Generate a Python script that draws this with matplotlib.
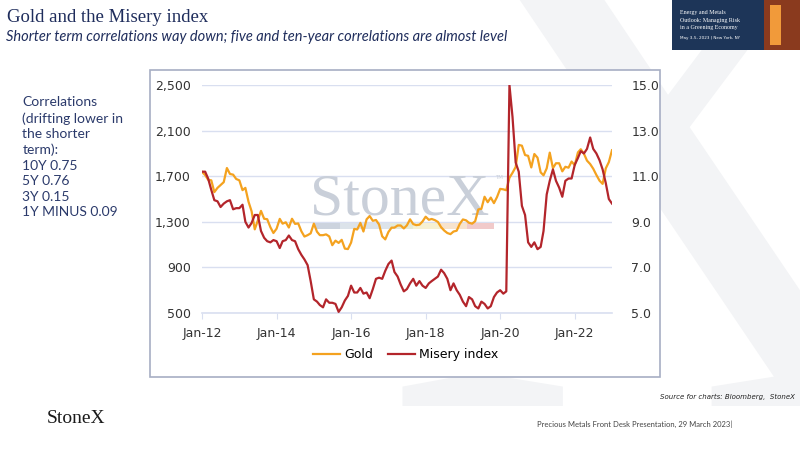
import pandas as pd
import matplotlib.pyplot as plt
from matplotlib.ticker import FuncFormatter, FixedLocator
from matplotlib.patches import Rectangle

# monthly data, Jan 2012 - Jan 2023
dates = pd.date_range('2012-01-01', periods=133, freq='MS')

gold = [1738, 1710, 1669, 1664, 1561, 1598, 1622, 1648, 1772, 1720, 1714, 1676,
        1664, 1578, 1598, 1476, 1393, 1234, 1312, 1396, 1327, 1323, 1253, 1202,
        1240, 1326, 1284, 1296, 1250, 1327, 1282, 1286, 1217, 1171, 1183, 1199,
        1284, 1213, 1183, 1183, 1190, 1172, 1095, 1135, 1115, 1142, 1065, 1061,
        1118, 1238, 1233, 1291, 1215, 1322, 1351, 1309, 1316, 1277, 1173, 1146,
        1211, 1249, 1249, 1268, 1268, 1242, 1269, 1322, 1280, 1271, 1275, 1303,
        1345, 1318, 1325, 1315, 1299, 1253, 1224, 1202, 1192, 1215, 1222, 1282,
        1321, 1313, 1292, 1284, 1305, 1409, 1414, 1520, 1472, 1513, 1464, 1517,
        1589, 1585, 1577, 1687, 1730, 1781, 1975, 1968, 1886, 1879, 1777, 1895,
        1863, 1734, 1708, 1769, 1907, 1771, 1814, 1814, 1743, 1783, 1775, 1829,
        1797, 1909, 1937, 1897, 1837, 1807, 1766, 1711, 1661, 1633, 1769, 1824,
        1928]

misery = [11.2, 11.2, 10.9, 10.4, 9.95, 9.9, 9.65, 9.8, 9.9, 9.95, 9.55, 9.6,
          9.6, 9.75, 9.0, 8.75, 8.95, 9.3, 9.3, 8.6, 8.3, 8.15, 8.1, 8.2,
          8.15, 7.85, 8.15, 8.2, 8.4, 8.2, 8.15, 7.8, 7.55, 7.35, 7.1, 6.4,
          5.6, 5.5, 5.35, 5.25, 5.6, 5.45, 5.45, 5.4, 5.05, 5.25, 5.55, 5.75,
          6.2, 5.9, 5.9, 6.1, 5.85, 5.9, 5.65, 6.05, 6.5, 6.55, 6.5, 6.85,
          7.15, 7.3, 6.8, 6.6, 6.25, 5.95, 6.05, 6.3, 6.5, 6.2, 6.4, 6.2,
          6.1, 6.3, 6.4, 6.5, 6.6, 6.9, 6.75, 6.5, 6.0, 6.3, 6.0, 5.8,
          5.5, 5.3, 5.7, 5.6, 5.3, 5.2, 5.5, 5.4, 5.2, 5.3, 5.7, 5.9,
          6.0, 5.85, 5.95, 15.0, 13.6, 11.6, 11.2, 9.7, 9.3, 8.1, 7.9, 8.1,
          7.8, 7.9, 8.6, 10.2, 10.8, 11.3, 10.8, 10.5, 10.1, 10.8, 10.9, 10.9,
          11.5, 11.8, 12.1, 12.0, 12.2, 12.7, 12.2, 12.0, 11.7, 11.3, 10.7, 10.0,
          9.8]

gold_ticks = [500, 900, 1300, 1700, 2100, 2500]
misery_ticks = [5.0, 7.0, 9.0, 11.0, 13.0, 15.0]
year_ticks = pd.date_range('2012-01-01', '2022-01-01', freq='24MS')

navy = '#1f2d5c'
gold_col = '#f4a21f'
red_col = '#b3252b'
grid_col = '#d9dff0'

fig = plt.figure(figsize=(8, 4.5), dpi=100)

# faint background X
fig.text(0.82, 0.50, 'X', fontsize=540, family='Liberation Serif', color='#f3f4f6',
         ha='center', va='center', zorder=-10)

# header
fig.text(0.009, 0.962, 'Gold and the Misery index', fontsize=13.5, family='Liberation Serif',
         color=navy, va='center')
fig.text(0.007, 0.917, 'Shorter term correlations way down; five and ten-year correlations are almost level',
         fontsize=10.5, family='Lato', style='italic', color=navy, va='center')

# event banner
fig.patches.append(Rectangle((0.84, 0.888), 0.16, 0.112, transform=fig.transFigure,
                             facecolor='#1d3558', edgecolor='none', zorder=1))
fig.patches.append(Rectangle((0.955, 0.888), 0.045, 0.112, transform=fig.transFigure,
                             facecolor='#8a3a1e', edgecolor='none', zorder=2))
fig.patches.append(Rectangle((0.962, 0.90), 0.014, 0.09, transform=fig.transFigure,
                             facecolor='#f19a3a', edgecolor='none', zorder=3))
for i, line in enumerate(['Energy and Metals', 'Outlook: Managing Risk', 'in a Greening Economy']):
    fig.text(0.850, 0.972 - i * 0.017, line, fontsize=4.3, family='Liberation Serif',
             color='white', va='center', zorder=4)
fig.text(0.850, 0.916, 'May 3-5, 2023 | New York, NY', fontsize=3, color='white',
         va='center', zorder=4)

# correlations note
note = 'Correlations\n(drifting lower in\nthe shorter\nterm):\n10Y 0.75\n5Y 0.76\n3Y 0.15\n1Y MINUS 0.09'
fig.text(0.028, 0.786, note, fontsize=10, family='Lato', color='#2b3a6b', va='top',
         linespacing=1.35)

# chart frame
fig.patches.append(Rectangle((0.1875, 0.162), 0.6375, 0.683, transform=fig.transFigure,
                             facecolor='white', edgecolor='#a7aec4', linewidth=1.2, zorder=-5))

ax = fig.add_axes([0.2525, 0.3044, 0.5125, 0.5066])
ax.patch.set_alpha(0)
ax.plot(dates, gold, color=gold_col, linewidth=1.6, label='Gold', zorder=3)
ax.set_ylim(500, 2500)
ax.yaxis.set_major_locator(FixedLocator(gold_ticks))
ax.yaxis.set_major_formatter(FuncFormatter(lambda v, p: f'{v:,.0f}'))
ax.set_xlim(dates[0], dates[-1])
ax.set_xticks(year_ticks)
ax.set_xticklabels([d.strftime('%b-%y') for d in year_ticks])
ax.grid(axis='y', color=grid_col, linewidth=1)
ax.set_axisbelow(True)
for s in ['top', 'left', 'right']:
    ax.spines[s].set_visible(False)
ax.spines['bottom'].set_color(grid_col)
ax.spines['bottom'].set_linewidth(1.2)
ax.tick_params(axis='x', colors=grid_col, labelcolor='#333333', length=4, labelsize=9, pad=6)
ax.tick_params(axis='y', length=0, labelcolor='#333333', labelsize=9, pad=8)

ax2 = ax.twinx()
ax2.plot(dates, misery, color=red_col, linewidth=1.6, label='Misery index', zorder=3)
ax2.set_ylim(5, 15)
ax2.yaxis.set_major_locator(FixedLocator(misery_ticks))
ax2.yaxis.set_major_formatter(FuncFormatter(lambda v, p: f'{v:.1f}'))
for s in ['top', 'left', 'right', 'bottom']:
    ax2.spines[s].set_visible(False)
ax2.tick_params(axis='y', length=0, labelcolor='#333333', labelsize=9, pad=14)

# StoneX watermark in chart
ax.text(0.483, 0.43, 'StoneX', transform=ax.transAxes, fontsize=43, family='Liberation Serif',
        color='#c9cfd9', ha='center', va='baseline', zorder=1)
ax.text(0.715, 0.59, 'TM', transform=ax.transAxes, fontsize=4, color='#c9cfd9', zorder=1)
bar_cols = ['#ccd3de', '#dce3ea', '#e4ead8', '#f6f0d2', '#f7e3cd', '#f1caca']
bar_w = [0.061, 0.122, 0.056, 0.066, 0.066, 0.064]
x0 = 0.276
for c, w in zip(bar_cols, bar_w):
    ax.add_patch(Rectangle((x0, 0.368), w, 0.026, transform=ax.transAxes,
                           facecolor=c, edgecolor='none', zorder=1))
    x0 += w

h1, l1 = ax.get_legend_handles_labels()
h2, l2 = ax2.get_legend_handles_labels()
fig.legend(h1 + h2, l1 + l2, loc='center', bbox_to_anchor=(0.507, 0.212), ncol=2,
           frameon=False, fontsize=9, handlelength=2.2, columnspacing=1.2, handletextpad=0.3)

# footer
fig.text(0.993, 0.118, 'Source for charts: Bloomberg,  StoneX', fontsize=5, style='italic',
         ha='right', va='center', color='#222222')
fig.text(0.058, 0.071, 'StoneX', fontsize=14, family='Liberation Serif', color='#1a1a1a',
         va='center')
fig.text(0.671, 0.058, 'Precious Metals Front Desk Presentation, 29 March 2023|', fontsize=5.5,
         family='Lato', color='#444444', va='center')

plt.savefig('out.png', dpi=100)
